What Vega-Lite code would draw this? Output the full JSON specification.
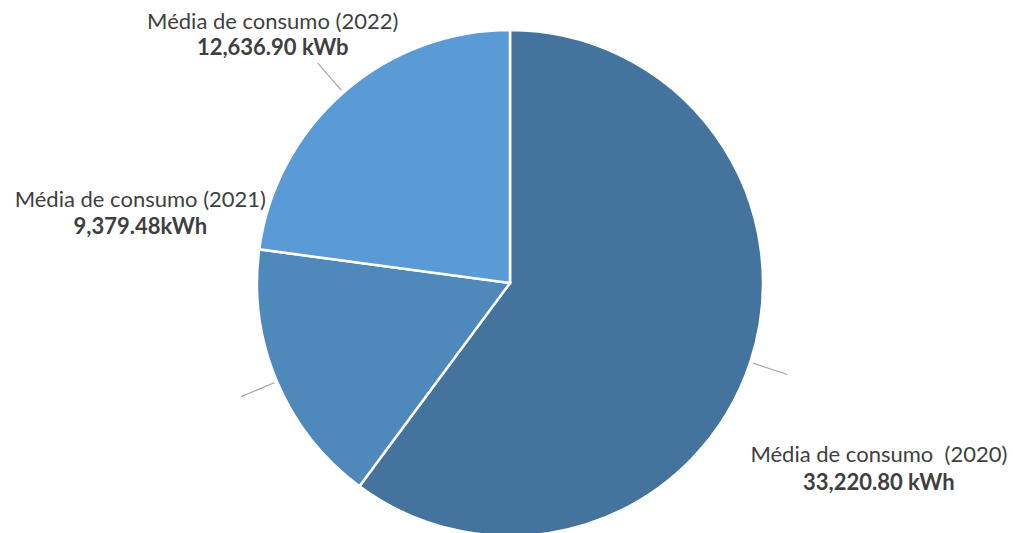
{
  "$schema": "https://vega.github.io/schema/vega-lite/v6.json",
  "width": 1020,
  "height": 566,
  "padding": 0,
  "autosize": {"type": "none"},
  "background": "white",
  "config": {"view": {"stroke": null}},
  "data": {
    "values": [
      {"year": "2020", "value": 33220.80, "label": "Média de consumo \u00a0(2020)", "valueLabel": "33,220.80 kWh"},
      {"year": "2021", "value": 9379.48, "label": "Média de consumo (2021)", "valueLabel": "9,379.48kWh"},
      {"year": "2022", "value": 12636.90, "label": "Média de consumo (2022)", "valueLabel": "12,636.90 kWb"}
    ]
  },
  "transform": [
    {"stack": "value", "groupby": [], "sort": [{"field": "year", "order": "ascending"}], "as": ["v0", "v1"]},
    {"calculate": "(datum.v0 + datum.v1) / 2", "as": "mid"}
  ],
  "layer": [
    {
      "mark": {"type": "arc", "outerRadius": 253, "stroke": "white", "strokeWidth": 2.5},
      "encoding": {
        "theta": {"field": "v1", "type": "quantitative", "stack": null, "scale": {"nice": false, "zero": true}},
        "theta2": {"field": "v0"},
        "color": {
          "field": "year", "type": "nominal",
          "scale": {"domain": ["2020", "2021", "2022"], "range": ["#44739E", "#4F89BC", "#5B9BD5"]},
          "legend": null
        }
      }
    },
    {
      "mark": {"type": "arc", "fill": null, "filled": false, "stroke": "#A6A6A6", "strokeWidth": 1.2},
      "encoding": {
        "theta": {"field": "mid", "type": "quantitative", "stack": null},
        "theta2": {"field": "mid"},
        "radius": {"value": 292},
        "radius2": {"value": 256}
      }
    },
    {
      "transform": [{"filter": "datum.year == '2022'"}],
      "layer": [
        {
          "mark": {"type": "text", "font": "Lato", "fontSize": 22, "color": "#3F3F3F", "align": "center", "baseline": "middle", "dx": -20, "dy": -13},
          "encoding": {"theta": {"field": "mid", "type": "quantitative", "stack": null}, "radius": {"value": 330}, "text": {"field": "label"}}
        },
        {
          "mark": {"type": "text", "font": "Lato", "fontSize": 22, "fontWeight": "bold", "color": "#3F3F3F", "align": "center", "baseline": "middle", "dx": -20, "dy": 13},
          "encoding": {"theta": {"field": "mid", "type": "quantitative", "stack": null}, "radius": {"value": 330}, "text": {"field": "valueLabel"}}
        }
      ]
    },
    {
      "transform": [{"filter": "datum.year == '2021'"}],
      "layer": [
        {
          "mark": {"type": "text", "font": "Lato", "fontSize": 22, "color": "#3F3F3F", "align": "center", "baseline": "middle", "dx": 0, "dy": -33},
          "encoding": {"theta": {"field": "v1", "type": "quantitative", "stack": null}, "radius": {"value": 373}, "text": {"field": "label"}}
        },
        {
          "mark": {"type": "text", "font": "Lato", "fontSize": 22, "fontWeight": "bold", "color": "#3F3F3F", "align": "center", "baseline": "middle", "dx": 0, "dy": -6},
          "encoding": {"theta": {"field": "v1", "type": "quantitative", "stack": null}, "radius": {"value": 373}, "text": {"field": "valueLabel"}}
        }
      ]
    },
    {
      "transform": [{"filter": "datum.year == '2020'"}],
      "layer": [
        {
          "mark": {"type": "text", "font": "Lato", "fontSize": 22, "color": "#3F3F3F", "align": "center", "baseline": "middle", "dx": -11, "dy": 47},
          "encoding": {"theta": {"field": "mid", "type": "quantitative", "stack": null}, "radius": {"value": 400}, "text": {"field": "label"}}
        },
        {
          "mark": {"type": "text", "font": "Lato", "fontSize": 22, "fontWeight": "bold", "color": "#3F3F3F", "align": "center", "baseline": "middle", "dx": -11, "dy": 75},
          "encoding": {"theta": {"field": "mid", "type": "quantitative", "stack": null}, "radius": {"value": 400}, "text": {"field": "valueLabel"}}
        }
      ]
    }
  ]
}
